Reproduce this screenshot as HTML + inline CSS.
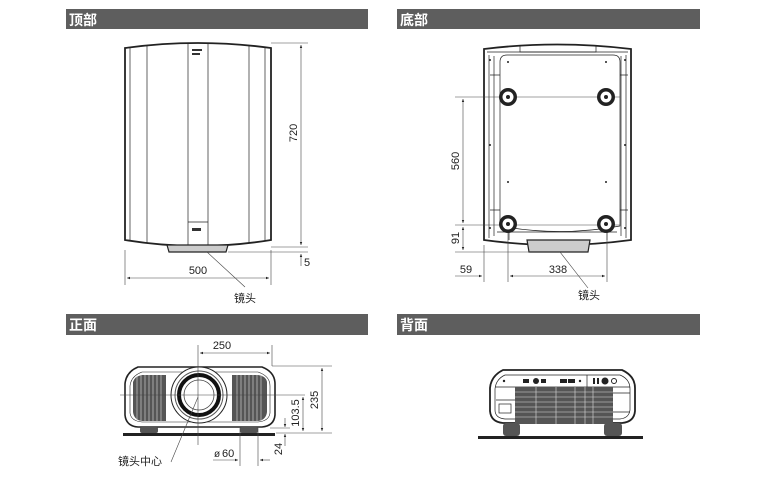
<!DOCTYPE html>
<html><head><meta charset="utf-8"><style>
html,body{margin:0;padding:0;background:#fff}
svg{display:block}
text{font-family:"Liberation Sans","Noto Sans CJK SC",sans-serif;fill:#222}
</style></head><body>
<svg width="774" height="480" viewBox="0 0 774 480" xmlns="http://www.w3.org/2000/svg">
<defs>
<marker id="a" viewBox="0 0 10 10" refX="10" refY="5" markerWidth="7" markerHeight="5" orient="auto-start-reverse"><path d="M0,1 L10,5 L0,9 z" fill="#222"/></marker>
</defs>
<!-- headers -->
<g fill="#5e5e5e">
<rect x="66" y="9" width="302" height="20"/>
<rect x="397" y="9" width="303" height="20"/>
<rect x="66" y="314" width="302" height="21"/>
<rect x="397" y="314" width="303" height="21"/>
</g>
<g font-size="14" font-weight="bold">
<text x="69" y="25" style="fill:#fff">顶部</text>
<text x="400" y="25" style="fill:#fff">底部</text>
<text x="69" y="330" style="fill:#fff">正面</text>
<text x="400" y="330" style="fill:#fff">背面</text>
</g>

<!-- TOP VIEW -->
<g stroke="#222" fill="none">
<path d="M125,48 Q198,38 271,48 L271,240 Q198,252 125,240 Z" stroke-width="1.8"/>
<g stroke-width="0.7">
<line x1="130" y1="47" x2="130" y2="241"/>
<line x1="147" y1="45" x2="147" y2="243"/>
<line x1="249" y1="45" x2="249" y2="243"/>
<line x1="265" y1="47" x2="265" y2="241"/>
<rect x="188" y="43" width="20" height="203"/>
<line x1="188" y1="222" x2="208" y2="222"/>
<path d="M167,245 L228,245 L226,252 L169,252 Z" stroke-width="1.2" fill="#ccc"/>
</g>
<g stroke-width="0.6" stroke="#444">
<line x1="271" y1="43" x2="308" y2="43"/>
<line x1="271" y1="247" x2="308" y2="247"/>
<line x1="228" y1="252" x2="308" y2="252"/>
<line x1="125" y1="250" x2="125" y2="285"/>
<line x1="271" y1="250" x2="271" y2="285"/>
<line x1="301" y1="45" x2="301" y2="245" marker-start="url(#a)" marker-end="url(#a)"/>
<line x1="301" y1="266" x2="301" y2="254" marker-end="url(#a)"/>
<line x1="127" y1="278" x2="269" y2="278" marker-start="url(#a)" marker-end="url(#a)"/>
<line x1="207" y1="252" x2="245" y2="287"/>
</g>
</g>
<g fill="#333"><rect x="192" y="49" width="10" height="2"/><rect x="192" y="53" width="8" height="2"/><rect x="192" y="228" width="9" height="3"/></g>
<text transform="translate(297,133) rotate(-90)" font-size="11" text-anchor="middle">720</text>
<text x="304" y="266" font-size="11">5</text>
<text x="198" y="274" font-size="11" text-anchor="middle">500</text>
<text x="234" y="302" font-size="11">镜头</text>

<!-- BOTTOM VIEW -->
<g stroke="#222" fill="none">
<path d="M484,49 Q557,40 631,49 L631,240 Q557,250 484,240 Z" stroke-width="1.8"/>
<g stroke-width="0.7">
<path d="M487,52 L628,52 M489,55 L489,238 M626,55 L626,238 M494,56 L494,236 M621,56 L621,236"/>
<path d="M500,62 Q500,55 507,55 L613,55 Q620,55 620,62 L620,226 Q560,237 500,226 Z"/>
<path d="M520,46 L520,52 L596,52 L596,46"/>
<path d="M490,75 L500,75 M490,210 L500,210 M620,75 L628,75 M620,210 L628,210"/>
<path d="M497,232 L617,232 M509,232 L509,240 M607,232 L607,240"/>
<path d="M527,240 L590,240 L588,252 L529,252 Z" stroke-width="1.2" fill="#ccc"/>
</g>
<g stroke-width="0.6" stroke="#444">
<line x1="455" y1="97" x2="620" y2="97"/>
<line x1="455" y1="225" x2="620" y2="225"/>
<line x1="455" y1="252" x2="530" y2="252"/>
<line x1="463" y1="99" x2="463" y2="223" marker-start="url(#a)" marker-end="url(#a)"/>
<line x1="463" y1="227" x2="463" y2="250" marker-start="url(#a)" marker-end="url(#a)"/>
<line x1="484" y1="245" x2="484" y2="282"/>
<line x1="508" y1="228" x2="508" y2="282"/>
<line x1="607" y1="228" x2="607" y2="282"/>
<line x1="455" y1="276" x2="482" y2="276" marker-end="url(#a)"/>
<line x1="510" y1="276" x2="605" y2="276" marker-start="url(#a)" marker-end="url(#a)"/>
<line x1="560" y1="252" x2="588" y2="288"/>
</g>
</g>
<g fill="#222">
<circle cx="508" cy="97" r="9"/><circle cx="606" cy="97" r="9"/>
<circle cx="508" cy="224" r="9"/><circle cx="606" cy="224" r="9"/>
</g>
<g fill="#fff">
<circle cx="508" cy="97" r="5.5"/><circle cx="606" cy="97" r="5.5"/>
<circle cx="508" cy="224" r="5.5"/><circle cx="606" cy="224" r="5.5"/>
</g>
<g fill="#222">
<circle cx="508" cy="97" r="2"/><circle cx="606" cy="97" r="2"/>
<circle cx="508" cy="224" r="2"/><circle cx="606" cy="224" r="2"/>
<circle cx="508" cy="62" r="1"/><circle cx="606" cy="62" r="1"/>
<circle cx="508" cy="182" r="1"/><circle cx="606" cy="182" r="1"/>
<circle cx="490" cy="60" r="1"/><circle cx="490" cy="145" r="1"/><circle cx="490" cy="228" r="1"/>
<circle cx="625" cy="60" r="1"/><circle cx="625" cy="145" r="1"/><circle cx="625" cy="228" r="1"/>
</g>
<text transform="translate(459,161) rotate(-90)" font-size="11" text-anchor="middle">560</text>
<text transform="translate(459,238) rotate(-90)" font-size="11" text-anchor="middle">91</text>
<text x="466" y="273" font-size="11" text-anchor="middle">59</text>
<text x="558" y="273" font-size="11" text-anchor="middle">338</text>
<text x="578" y="299" font-size="11">镜头</text>

<!-- FRONT VIEW -->
<g stroke="#222" fill="none">
<path d="M138,367 L262,367 Q275,372 275,384 L275,415 Q274,426 262,427 L138,427 Q126,426 125,415 L125,384 Q126,372 138,367 Z" stroke-width="1.6"/>
<path d="M142,372 L258,372 Q270,376 270,386 L270,413 Q269,421 258,422 L142,422 Q131,421 130,413 L130,386 Q131,376 142,372 Z" stroke-width="0.6"/>
</g>
<path d="M133,382 Q135,376 142,375 L166,375 L166,421 L142,421 Q134,420 133,412 Z" fill="#555"/>
<path d="M232,375 L258,375 Q266,376 267,382 L267,412 Q266,420 258,421 L232,421 Z" fill="#555"/>
<g stroke="#ccc" stroke-width="0.7">
<path d="M137,376 V420 M141,375 V421 M145,375 V421 M149,375 V421 M153,375 V421 M157,375 V421 M161,375 V421"/>
<path d="M237,375 V421 M241,375 V421 M245,375 V421 M249,375 V421 M253,375 V421 M257,375 V421 M261,375 V421"/>
</g>
<circle cx="199" cy="395" r="28" fill="#fff" stroke="#222" stroke-width="1"/>
<circle cx="199" cy="395" r="24" fill="none" stroke="#555" stroke-width="1"/>
<circle cx="199" cy="395" r="20" fill="none" stroke="#111" stroke-width="4"/>
<circle cx="199" cy="395" r="15" fill="#fff" stroke="#444" stroke-width="0.8"/>
<rect x="123" y="433" width="152" height="3" fill="#222"/>
<g fill="#555"><rect x="140" y="427" width="18" height="6" rx="2"/><rect x="240" y="427" width="18" height="6" rx="2"/></g>
<g stroke="#444" stroke-width="0.6" fill="none">
<line x1="198" y1="345" x2="198" y2="445"/>
<line x1="272" y1="345" x2="272" y2="366"/>
<line x1="200" y1="353" x2="270" y2="353" marker-start="url(#a)" marker-end="url(#a)"/>
<line x1="272" y1="366" x2="332" y2="366"/>
<line x1="120" y1="395" x2="305" y2="395"/>
<line x1="276" y1="433" x2="332" y2="433"/>
<line x1="270" y1="428" x2="290" y2="428"/>
<line x1="322" y1="368" x2="322" y2="431" marker-start="url(#a)" marker-end="url(#a)"/>
<line x1="303" y1="397" x2="303" y2="431" marker-start="url(#a)" marker-end="url(#a)"/>
<line x1="285" y1="418" x2="285" y2="427" marker-end="url(#a)"/>
<line x1="285" y1="446" x2="285" y2="434" marker-end="url(#a)"/>
<line x1="240" y1="428" x2="240" y2="466"/>
<line x1="258" y1="428" x2="258" y2="466"/>
<line x1="213" y1="460" x2="238" y2="460" marker-end="url(#a)"/>
<line x1="270" y1="460" x2="260" y2="460" marker-end="url(#a)"/>
<line x1="198" y1="397" x2="171" y2="462"/>
</g>
<text x="222" y="349" font-size="11" text-anchor="middle">250</text>
<text transform="translate(318,400) rotate(-90)" font-size="11" text-anchor="middle">235</text>
<text transform="translate(299,413) rotate(-90)" font-size="11" text-anchor="middle">103.5</text>
<text transform="translate(282,449) rotate(-90)" font-size="11" text-anchor="middle">24</text>
<text x="214" y="457" font-size="10">ø</text><text x="222" y="457" font-size="11">60</text>
<text x="118" y="465" font-size="11">镜头中心</text>

<!-- BACK VIEW -->
<g stroke="#222" fill="none">
<path d="M503,370 L622,370 Q635,376 635,388 L635,411 Q634,422 622,423 L503,423 Q491,422 490,411 L490,388 Q491,376 503,370 Z" stroke-width="1.8"/>
<g stroke-width="0.7">
<path d="M505,375 L620,375 Q630,379 630,389 L630,410 Q629,418 620,419 L505,419 Q495,418 495,410 L495,389 Q496,379 505,375 Z"/>
<path d="M495,387 L630,387 M587,375 L587,387 M496,400 L515,400 M613,393 L630,393 M613,412 L630,412"/>
<rect x="499" y="404" width="12" height="9"/>
</g>
</g>
<rect x="515" y="387" width="98" height="37" fill="#555"/>
<g stroke="#ddd" stroke-width="0.6">
<path d="M515,392 H613 M515,397 H613 M515,402 H613 M515,407 H613 M515,412 H613 M515,417 H613"/>
<path d="M536,387 V424 M556,387 V424 M575,387 V424 M585,387 V424 M593,387 V424"/>
</g>
<g fill="#222"><rect x="523" y="379" width="6" height="4"/><circle cx="536" cy="381" r="3"/><rect x="541" y="379" width="5" height="4"/>
<rect x="560" y="379" width="7" height="4"/><rect x="568" y="379" width="7" height="4"/><circle cx="580" cy="381" r="1.2"/>
<rect x="593" y="378" width="2" height="6"/><rect x="597" y="378" width="2" height="6"/><circle cx="605" cy="381" r="3.5"/><circle cx="614" cy="381" r="2.5" fill="none" stroke="#222"/>
<circle cx="504" cy="381" r="1.2"/></g>
<rect x="478" y="436" width="165" height="3" fill="#222"/>
<g fill="#555"><rect x="503" y="423" width="17" height="13" rx="3"/><rect x="604" y="423" width="18" height="13" rx="3"/></g>
</svg>
</body></html>
